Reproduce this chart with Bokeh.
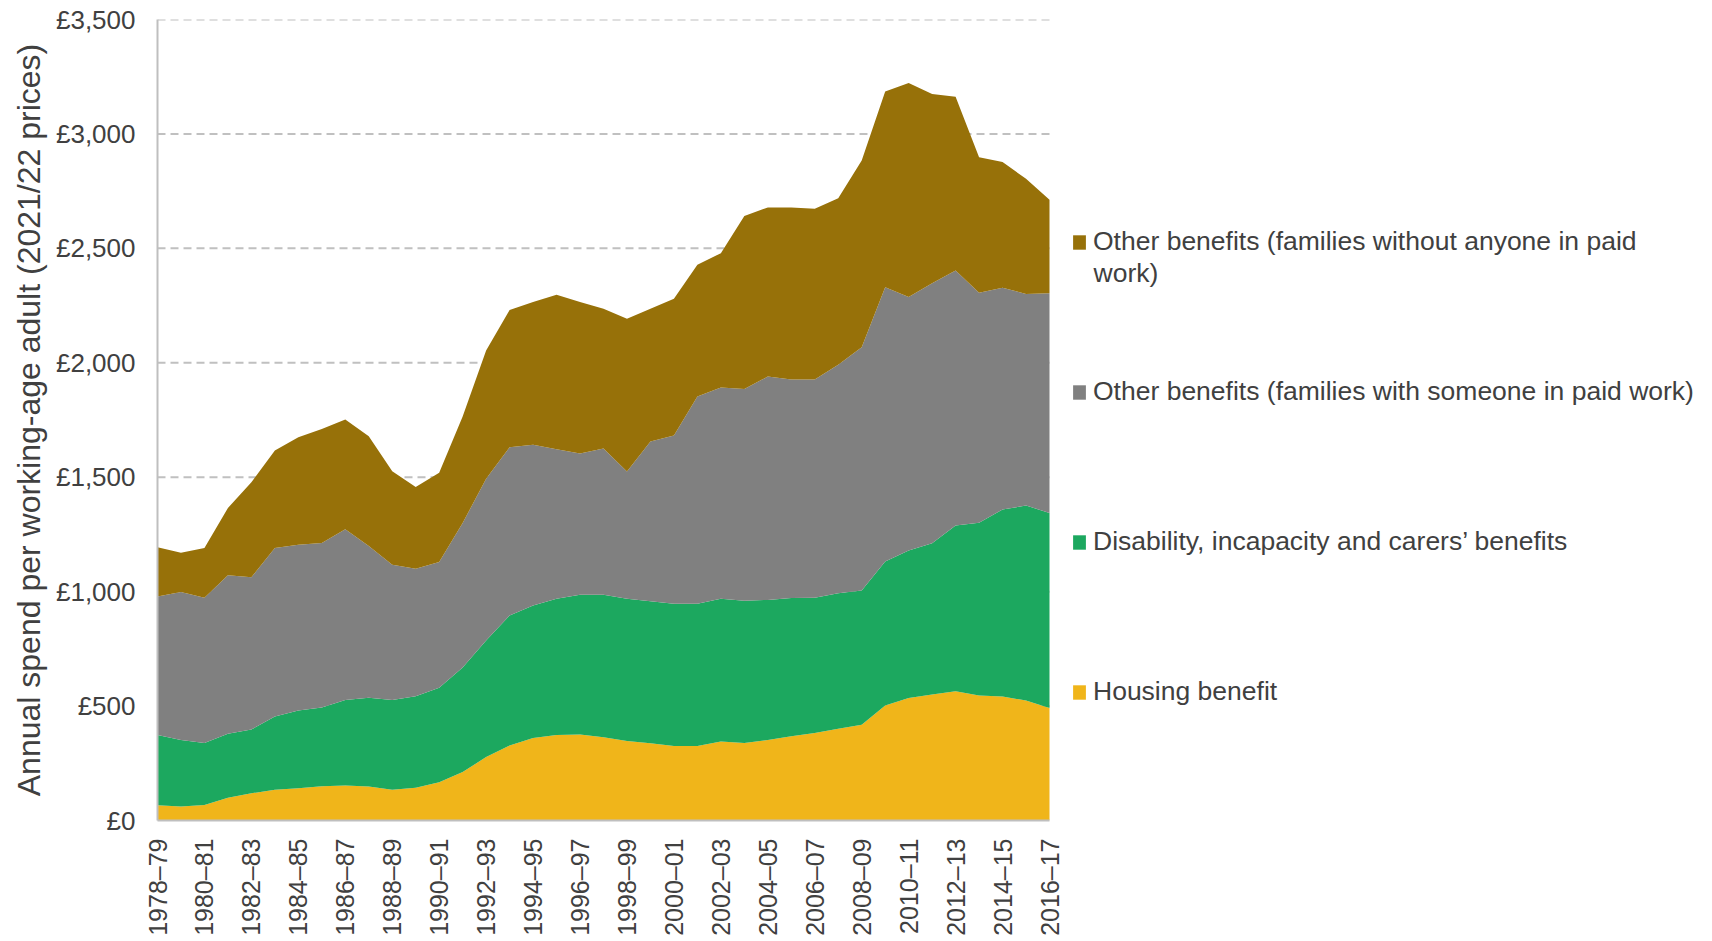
import math
from bokeh.plotting import figure
from bokeh.models import (ColumnDataSource, FixedTicker, Legend, LegendItem,
                          Range1d, Label)
from bokeh.embed import file_html
from bokeh.resources import INLINE

years = ["1978–79", "1979–80", "1980–81", "1981–82", "1982–83", "1983–84",
         "1984–85", "1985–86", "1986–87", "1987–88", "1988–89", "1989–90",
         "1990–91", "1991–92", "1992–93", "1993–94", "1994–95", "1995–96",
         "1996–97", "1997–98", "1998–99", "1999–00", "2000–01", "2001–02",
         "2002–03", "2003–04", "2004–05", "2005–06", "2006–07", "2007–08",
         "2008–09", "2009–10", "2010–11", "2011–12", "2012–13", "2013–14",
         "2014–15", "2015–16", "2016–17"]

housing = [67, 61, 68, 99, 119, 134, 141, 150, 153, 149, 134, 143, 167, 212,
           277, 328, 360, 374, 376, 364, 347, 338, 325, 325, 345, 339, 352,
           368, 382, 401, 418, 502, 535, 551, 565, 546, 542, 524, 492]
disability = [307, 291, 271, 280, 279, 320, 340, 344, 374, 387, 393, 400, 413,
              456, 510, 568, 579, 595, 610, 622, 622, 620, 622, 622, 624, 621,
              612, 604, 591, 592, 587, 630, 645, 661, 724, 755, 817, 852, 852]
with_work = [605, 646, 634, 693, 665, 737, 724, 719, 746, 663, 590, 557, 549,
             632, 706, 735, 703, 653, 618, 639, 556, 698, 735, 906, 923, 925,
             976, 955, 954, 998, 1063, 1198, 1107, 1136, 1114, 1005, 969, 925,
             960]
without_work = [215, 172, 218, 293, 415, 426, 470, 498, 479, 480, 409, 357,
                390, 465, 561, 600, 624, 675, 662, 611, 667, 580, 598, 575, 587,
                756, 739, 751, 746, 728, 816, 855, 936, 826, 759, 592, 549, 503,
                408]

series_names = ["Housing benefit",
                "Disability, incapacity and carers’ benefits",
                "Other benefits (families with someone in paid work)",
                "Other benefits (families without anyone in paid work)"]
colors = ["#F0B51A", "#1CA85F", "#808080", "#977109"]
y_ticks = [0, 500, 1000, 1500, 2000, 2500, 3000, 3500]

FONT = "Liberation Sans"
TXT = "#404040"

# layout (pixels)
W, H = 1696, 941
LEFT, TOP, BOTTOM = 157, 19, 121
PLOT_W = 892                      # width of the area part of the frame
n = len(years)
px_per_unit = PLOT_W / (n - 1)
x_end = (W - LEFT) / px_per_unit  # frame extends right to host the legend

x = list(range(n))
src = ColumnDataSource(dict(x=x, housing=housing, disability=disability,
                            with_work=with_work, without_work=without_work))

p = figure(width=W, height=H, output_backend="svg", toolbar_location=None,
           x_range=Range1d(0, x_end), y_range=Range1d(0, y_ticks[-1]),
           min_border_left=LEFT, min_border_right=0, min_border_top=TOP,
           min_border_bottom=BOTTOM)
p.outline_line_color = None
p.background_fill_color = "white"
p.xgrid.visible = False
p.ygrid.visible = False

# dashed horizontal gridlines limited to the data span
grid_src = ColumnDataSource(dict(y=y_ticks[1:], x0=[0] * (len(y_ticks) - 1),
                                 x1=[x[-1]] * (len(y_ticks) - 1)))
p.segment(x0="x0", x1="x1", y0="y", y1="y", source=grid_src,
          line_color="#C0C0C0", line_width=2, line_dash="8 5")

rs = p.varea_stack(stackers=["housing", "disability", "with_work", "without_work"],
                   x="x", color=colors, source=src)

# axes
xa = p.xaxis[0]
xa.bounds = (0, x[-1])
xa.ticker = FixedTicker(ticks=x[::2])
xa.major_label_overrides = {i: years[i] for i in x[::2]}
xa.major_label_orientation = math.pi / 2
xa.major_label_standoff = 18
xa.major_tick_line_color = None
xa.major_tick_out = 0
xa.major_tick_in = 0
xa.minor_tick_line_color = None
xa.axis_line_color = "#BFBFBF"
xa.axis_line_width = 2
xa.major_label_text_font = FONT
xa.major_label_text_font_size = "25px"
xa.major_label_text_color = TXT

ya = p.yaxis[0]
ya.ticker = FixedTicker(ticks=y_ticks)
ya.major_label_overrides = {v: f"£{v:,}" for v in y_ticks}
ya.major_label_standoff = 22
ya.major_tick_line_color = None
ya.major_tick_out = 0
ya.major_tick_in = 0
ya.minor_tick_line_color = None
ya.axis_line_color = "#BFBFBF"
ya.axis_line_width = 2
ya.major_label_text_font = FONT
ya.major_label_text_font_size = "26px"
ya.major_label_text_color = TXT
ya.axis_label = "Annual spend per working-age adult (2021/22 prices)"
ya.axis_label_text_font = FONT
ya.axis_label_text_font_size = "32px"
ya.axis_label_text_font_style = "normal"
ya.axis_label_text_color = TXT
ya.axis_label_standoff = 6

# legend (top to bottom: reverse stack order)
legend_labels = ["Other benefits (families without anyone in paid",
                 series_names[2], series_names[1], series_names[0]]
items = [LegendItem(label=legend_labels[0], renderers=[rs[3]]),
         LegendItem(label=legend_labels[1], renderers=[rs[2]]),
         LegendItem(label=legend_labels[2], renderers=[rs[1]]),
         LegendItem(label=legend_labels[3], renderers=[rs[0]])]
legend = Legend(items=items, location=(PLOT_W + 22, 113), glyph_width=16,
                glyph_height=18, label_standoff=6, spacing=119, padding=0,
                margin=0, border_line_color=None, background_fill_alpha=0,
                label_text_font=FONT, label_text_font_size="26.5px",
                label_text_color=TXT, label_height=30)
p.add_layout(legend, "center")
# second line of the first legend entry
p.add_layout(Label(x=PLOT_W + 44, y=548, x_units="screen", y_units="screen",
                   text="work)", text_font=FONT, text_font_size="26.5px",
                   text_color=TXT, text_baseline="middle", text_align="left"))

open("out.html", "w").write(file_html(p, INLINE))
